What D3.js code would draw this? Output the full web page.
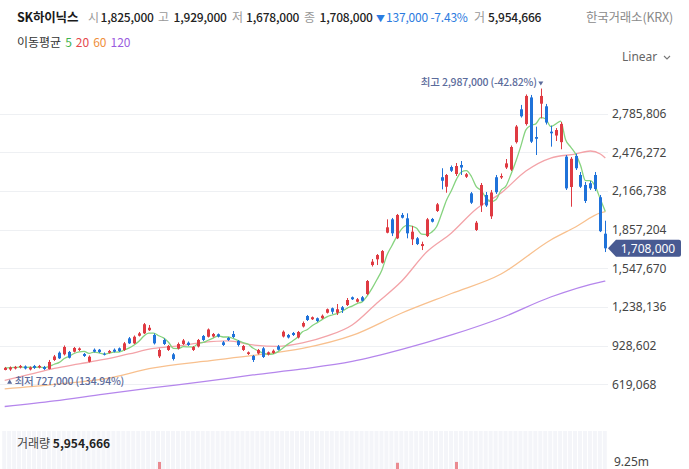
<!DOCTYPE html>
<html>
<head>
<meta charset="utf-8">
<script src="https://cdn.jsdelivr.net/npm/d3@7"></script>
<style>
  body { margin: 0; background: #fff; }
  svg { display: block; font-family: "Noto Sans CJK KR", "Noto Sans", sans-serif; }
</style>
</head>
<body>
<svg width="689" height="469"></svg>
<script>
// daily candles, prices in thousand won
const opens = [734,738,746,754,762,738,766,754,758,742,
  814,872,859,878,880,894,862,800,896,896,
  864,872,896,907,894,987,947,1008,1027,1052,
  1014,843,974,894,859,906,942,952,894,922,
  1006,1000,1002,1020,955,990,1022,966,894,862,
  846,866,907,859,870,923,1002,1014,1030,994,
  1082,1166,1140,1148,1148,1192,1228,1192,1236,1254,
  1316,1280,1316,1342,1574,1620,1593,1833,1940,1788,
  1975,1948,1780,1788,1726,1806,1943,2007,2277,2201,
  2359,2303,2375,2281,2148,1855,2051,2135,1964,2277,
  2275,2355,2338,2558,2821,2703,2916,2599,2866,2845,
  2642,2611,2558,2442,2199,2447,2295,2215,2229,2295,
  2117,1825];
const highs = [758,762,766,774,770,762,774,774,766,814,
  854,882,930,886,918,914,870,850,906,902,
  874,894,906,914,958,998,1010,1038,1110,1094,
  1026,906,986,934,870,954,982,962,926,982,
  1014,1066,1030,1026,966,998,1046,974,934,882,
  854,902,918,882,898,934,1050,1022,1038,1046,
  1122,1174,1162,1154,1178,1226,1234,1262,1246,1310,
  1322,1310,1326,1454,1622,1662,1694,1940,1951,1983,
  1991,1988,1887,1798,1761,1951,1951,2071,2349,2303,
  2371,2391,2407,2311,2159,1927,2231,2159,2175,2295,
  2307,2423,2531,2695,2856,2940,2936,2682,2987,2864,
  2690,2671,2719,2455,2439,2466,2319,2239,2247,2319,
  2135,1929];
const lows = [731,727,738,746,738,730,742,746,734,738,
  806,822,850,826,874,886,838,794,874,870,
  850,866,874,878,886,942,942,1002,1022,1046,
  938,830,934,886,810,898,934,926,886,914,
  966,994,994,994,926,966,990,922,886,854,
  798,858,830,850,862,890,994,986,1006,986,
  1074,1126,1134,1118,1142,1186,1182,1174,1190,1246,
  1294,1274,1282,1334,1562,1574,1586,1828,1806,1782,
  1947,1788,1734,1734,1694,1798,1915,1999,2180,2153,
  2319,2287,2295,2271,2063,1847,1999,2039,1943,2143,
  2263,2343,2327,2547,2755,2691,2551,2455,2749,2699,
  2522,2567,2501,2175,2041,2335,2191,2071,2175,2167,
  1838,1678];
const closes = [750,754,758,766,746,754,750,766,742,798,
  842,827,918,832,910,906,846,840,880,878,
  859,886,880,886,947,947,1000,1027,1100,1072,
  947,894,942,926,822,942,970,934,918,974,
  974,1058,1022,1002,934,974,998,934,926,875,
  814,894,838,875,888,896,1040,994,1014,1038,
  1110,1134,1156,1126,1168,1220,1200,1220,1214,1294,
  1300,1300,1288,1446,1601,1654,1686,1876,1828,1975,
  1953,1828,1841,1742,1742,1940,1921,2060,2249,2295,
  2329,2367,2355,2301,2073,1913,2215,2051,2155,2157,
  2287,2388,2519,2683,2765,2928,2562,2585,2928,2715,
  2629,2655,2703,2188,2425,2349,2201,2087,2188,2183,
  1845,1708];
// volume, millions of shares
const volumes = [3.1,2.8,2.5,2.7,2.9,2.4,2.6,2.8,3.0,5.2,
  6.1,5.4,6.8,5.9,4.6,3.8,4.2,5.0,4.1,3.6,
  3.3,3.0,3.2,3.4,4.8,5.1,4.9,4.0,6.9,5.5,
  6.2,9.2,6.0,4.4,5.8,4.9,4.1,3.7,3.9,4.6,
  4.2,5.6,4.3,3.8,4.5,3.6,4.0,4.4,4.1,3.9,
  5.2,4.6,5.5,3.8,3.6,3.9,6.4,4.5,3.7,4.9,
  5.8,5.1,4.2,3.9,4.4,5.0,4.6,5.3,4.1,5.7,
  4.2,3.8,4.0,7.4,7.8,6.2,5.9,7.6,8.0,9.1,
  6.8,7.2,6.1,5.4,5.0,6.9,4.8,6.3,7.5,6.6,
  5.4,9.2,5.8,4.7,6.2,7.0,6.4,5.1,6.7,5.6,
  4.3,5.0,6.8,7.1,6.6,7.3,7.9,6.0,7.7,6.5,
  5.6,4.8,5.9,7.7,7.4,5.8,5.2,5.5,4.6,5.0,
  7.2,5.954666];
// longer moving averages: [candle index, thousand won]
const ma20 = [[0,650],[5,698],[10,746],[15,782],[20,818],[25,862],[30,906],[35,926],[40,954],[45,966],
  [50,934],[55,922],[60,950],[65,1006],[70,1094],[75,1270],[80,1446],[85,1678],[90,1831],[95,2023],
  [100,2151],[105,2327],[110,2431],[115,2463],[118,2487],[120,2463],[121,2431]];
const ma60 = [[0,582],[10,618],[20,662],[30,750],[40,802],[50,850],[60,906],[70,1010],[80,1190],
  [90,1346],[100,1502],[110,1775],[115,1879],[120,1991],[121,2001]];
const ma120 = [[0,441],[10,486],[20,541],[30,592],[40,640],[50,694],[60,742],[70,802],[80,898],
  [90,1014],[100,1150],[110,1318],[120,1438],[121,1446]];

const priceTicks = [619068, 928602, 1238136, 1547670, 1857204, 2166738, 2476272, 2785806];
const volTick = 9.25;
const maPeriods = [5, 20, 60, 120];
const maColors = ["#3fb34f", "#e5484d", "#f0903c", "#9b5de0"];
const lineColors = ["#86d37f", "#f3a3a8", "#f8c08e", "#b586ec"];
const K = 1000;

const svg = d3.select("svg");
const N = closes.length;
const UP = "#df3a42", DOWN = "#1f72d9";
const last = N - 1;

const x = d3.scaleBand().domain(d3.range(N)).range([2.2, 607.8]);
const cx = i => x(i) + x.bandwidth() / 2;
const y = d3.scaleLinear().domain([619068, 2785806]).range([384.3, 113.7]);
const yv = d3.scaleLinear().domain([0, volTick]).range([540, 461.5]);
const fmt = d3.format(",");
const pct = v => d3.format(".2f")(v).replace("−", "-");

// grid
svg.append("g")
  .selectAll("line")
  .data(priceTicks)
  .join("line")
  .attr("x1", 0).attr("x2", 608)
  .attr("y1", d => Math.round(y(d)) + 0.5)
  .attr("y2", d => Math.round(y(d)) + 0.5)
  .attr("stroke", "#eef0f3");

// right axis
const axis = svg.append("g")
  .attr("transform", "translate(608,0)")
  .call(d3.axisRight(y).tickValues(priceTicks).tickSize(0).tickPadding(4).tickFormat(fmt));
axis.select(".domain").remove();
axis.selectAll("text")
  .attr("fill", "#454545")
  .style("font-size", "12px")
  .style("font-family", "'Noto Sans', sans-serif");

// moving averages
const lineGen = d3.line()
  .x(d => cx(d[0]))
  .y(d => y(d[1] * K))
  .curve(d3.curveMonotoneX);

const ma5 = closes.map((c, i) => {
  const w = closes.slice(Math.max(0, i - 4), i + 1);
  return [i, d3.mean(w)];
});

[ma120, ma60, ma20, ma5].forEach((pts, k) => {
  svg.append("path")
    .datum(pts)
    .attr("d", lineGen)
    .attr("fill", "none")
    .attr("stroke", lineColors[3 - k])
    .attr("stroke-width", 1.3);
});

// candles
const candles = svg.append("g")
  .selectAll("g")
  .data(d3.range(N))
  .join("g")
  .attr("fill", i => closes[i] >= opens[i] ? UP : DOWN)
  .attr("stroke", i => closes[i] >= opens[i] ? UP : DOWN);

candles.append("line")
  .attr("x1", i => Math.round(cx(i)) + 0.5)
  .attr("x2", i => Math.round(cx(i)) + 0.5)
  .attr("y1", i => y(highs[i] * K))
  .attr("y2", i => y(lows[i] * K))
  .attr("stroke-width", 1);

candles.append("rect")
  .attr("stroke", "none")
  .attr("x", i => Math.round(cx(i)) - 1)
  .attr("width", 3)
  .attr("y", i => y(Math.max(opens[i], closes[i]) * K))
  .attr("height", i => Math.max(1, Math.abs(y(opens[i] * K) - y(closes[i] * K))));

// high / low markers
const hiIdx = d3.maxIndex(highs), loIdx = d3.minIndex(lows);
const markColor = "#5b6b9b";
const hx = cx(hiIdx);
svg.append("path")
  .attr("d", `M${hx - 2.5},${y(highs[hiIdx] * K) - 7}h5l-2.5,4z`)
  .attr("fill", markColor);
svg.append("text")
  .attr("x", hx - 4).attr("y", y(highs[hiIdx] * K) - 3)
  .attr("text-anchor", "end")
  .attr("fill", markColor)
  .attr("font-weight", 500)
  .style("font-size", "10.5px")
  .style("letter-spacing", "-0.2px")
  .text(`최고 ${fmt(highs[hiIdx] * K)} (${pct((closes[last] - highs[hiIdx]) / highs[hiIdx] * 100)}%)`);

const lx = cx(loIdx);
svg.append("path")
  .attr("d", `M${lx - 2.5},${y(lows[loIdx] * K) + 13}h5l-2.5,-4.5z`)
  .attr("fill", markColor);
svg.append("text")
  .attr("x", lx + 5).attr("y", y(lows[loIdx] * K) + 14.5)
  .attr("fill", markColor)
  .attr("font-weight", 500)
  .style("font-size", "10.5px")
  .style("letter-spacing", "-0.2px")
  .text(`최저 ${fmt(lows[loIdx] * K)} (${pct((closes[last] - lows[loIdx]) / lows[loIdx] * 100)}%)`);

// current price tag
const cy = y(closes[last] * K);
svg.append("path")
  .attr("d", `M608,${cy} L616,${cy - 8.5} H679 Q681,${cy - 8.5} 681,${cy - 6.5} V${cy + 6.5} Q681,${cy + 8.5} 679,${cy + 8.5} H616 Z`)
  .attr("fill", "#485a92");
svg.append("text")
  .attr("x", 648).attr("y", cy + 4.3)
  .attr("text-anchor", "middle")
  .attr("fill", "#fff")
  .style("font-size", "12px")
  .style("font-family", "'Noto Sans', sans-serif")
  .text(fmt(closes[last] * K));

// volume pane
svg.append("g")
  .selectAll("rect")
  .data(d3.range(N))
  .join("rect")
  .attr("x", i => x(i))
  .attr("width", x.bandwidth() - 1)
  .attr("y", 431)
  .attr("height", 40)
  .attr("fill", "#f4f5f9");

svg.append("g")
  .selectAll("rect")
  .data(d3.range(N))
  .join("rect")
  .attr("x", i => Math.round(cx(i)) - 1)
  .attr("width", 3)
  .attr("y", i => yv(volumes[i]))
  .attr("height", i => 540 - yv(volumes[i]))
  .attr("fill", i => closes[i] >= opens[i] ? "#ea8a90" : "#7fa9e6");

svg.append("text")
  .attr("x", 614).attr("y", yv(volTick) + 4.5)
  .attr("fill", "#454545")
  .style("font-size", "12px")
  .style("font-family", "'Noto Sans', sans-serif")
  .text(volTick + "m");

const vt = svg.append("text").attr("x", 17).attr("y", 448).style("font-size", "12px");
vt.append("tspan").attr("fill", "#444").text("거래량 ");
vt.append("tspan").attr("fill", "#222").attr("font-weight", "bold").text(fmt(Math.round(volumes[last] * 1e6)));

// header
const prevClose = closes[last - 1];
const chg = closes[last] - prevClose;
const head = svg.append("text").attr("y", 22).style("font-size", "12px").style("letter-spacing", "-0.2px");
head.append("tspan").attr("x", 17).style("font-size", "12.5px").attr("fill", "#1a1a1a").attr("font-weight", "bold").text("SK하이닉스");
const headX = [[88, 100.5], [158, 173.5], [232, 246], [304, 319.5]];
[["시", opens[last]], ["고", highs[last]], ["저", lows[last]], ["종", closes[last]]].forEach(([lab, v], k) => {
  head.append("tspan").attr("x", headX[k][0]).attr("fill", "#999").text(lab);
  head.append("tspan").attr("x", headX[k][1]).attr("fill", "#222").attr("font-weight", 500).text(fmt(v * K));
});
head.append("tspan").attr("x", 376).attr("fill", "#2b7be0").style("font-size", "9px").text("▼");
head.append("tspan").attr("x", 386).attr("fill", "#2b7be0").text(`${fmt(Math.abs(chg) * K)} ${pct(chg / prevClose * 100)}%`);
head.append("tspan").attr("x", 474).attr("fill", "#999").text("거");
head.append("tspan").attr("x", 488).attr("fill", "#222").attr("font-weight", 500).text(fmt(Math.round(volumes[last] * 1e6)));

svg.append("text")
  .attr("x", 673).attr("y", 22)
  .attr("text-anchor", "end")
  .attr("fill", "#8a8a8a")
  .style("font-size", "12.5px")
  .style("letter-spacing", "-0.2px")
  .text("한국거래소(KRX)");

const leg = svg.append("text").attr("x", 17).attr("y", 47).style("font-size", "12px");
leg.append("tspan").attr("fill", "#333").text("이동평균");
maPeriods.forEach((p, k) => {
  leg.append("tspan").attr("dx", 4).attr("fill", maColors[k]).text(p);
});

svg.append("text")
  .attr("x", 622).attr("y", 61)
  .attr("fill", "#666")
  .style("font-size", "12px")
  .style("font-family", "'Noto Sans', sans-serif")
  .text("Linear");
svg.append("path")
  .attr("d", "M664,56 l3,3 l3,-3")
  .attr("fill", "none")
  .attr("stroke", "#777")
  .attr("stroke-width", 1.1);
</script>
</body>
</html>
